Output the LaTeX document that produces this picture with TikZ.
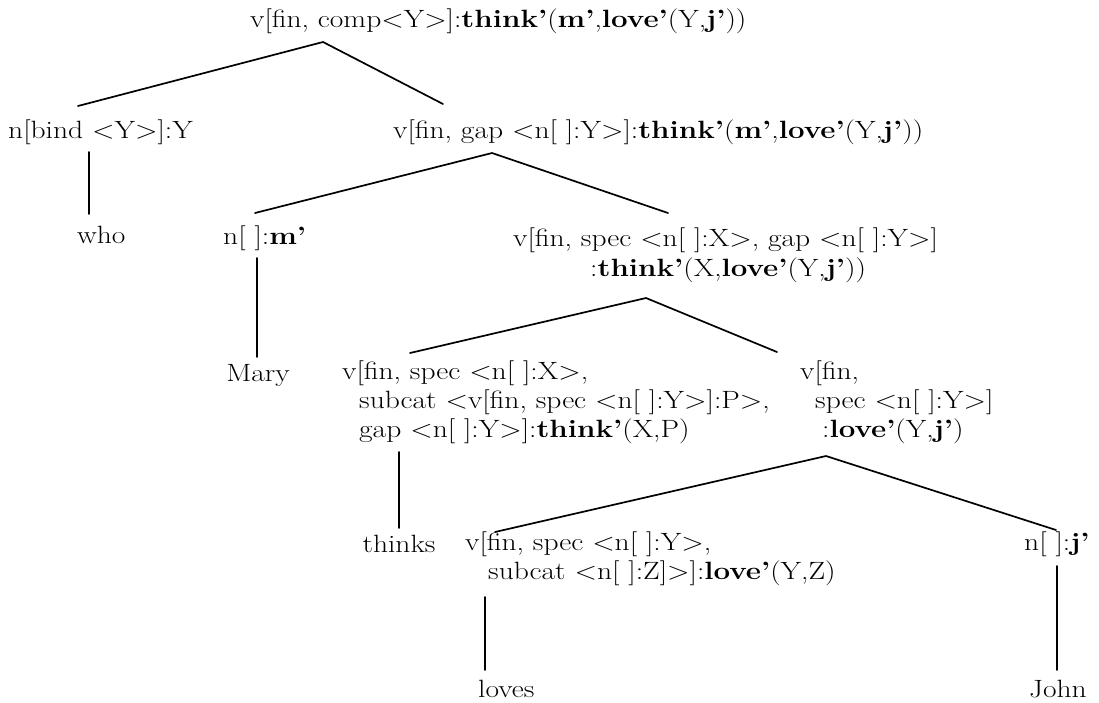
\documentclass[tikz,border=0pt]{standalone}
\usepackage{fontspec}
\usepackage{graphicx}
\newcommand{\wid}[1]{\scalebox{1.18}[1]{#1}}
\begin{document}
\begin{tikzpicture}[x=1pt,y=-1pt,
  lbl/.style={anchor=base west, inner sep=0pt, font=\fontsize{25}{30}\selectfont},
  leaf/.style={anchor=base, inner sep=0pt, font=\fontsize{25}{30}\selectfont},
  edge/.style={line width=1.7pt, line cap=round}]
\useasboundingbox[fill=white] (0,0) rectangle (1099,702);

% labels
\node[lbl] (root) at (250,27) {\wid{v[fin, comp<Y>]:\textbf{think'}(\textbf{m'},\textbf{love'}(Y,\textbf{j'}))}};
\node[lbl] (nbind) at (8,138) {\wid{n[bind <Y>]:Y}};
\node[lbl] (gap) at (393,138) {\wid{v[fin, gap <n[ ]:Y>]:\textbf{think'}(\textbf{m'},\textbf{love'}(Y,\textbf{j'}))}};
\node[lbl] (who) at (77,243) {\wid{who}};
\node[lbl] (nm) at (223,244) {\wid{n[ ]:\textbf{m'}}};
\node[lbl] (specA) at (513,246) {\wid{v[fin, spec <n[ ]:X>, gap <n[ ]:Y>]}};
\node[lbl] (specB) at (590,276) {\wid{:\textbf{think'}(X,\textbf{love'}(Y,\textbf{j'}))}};
\node[leaf] (mary) at (258,381) {\wid{Mary}};
\node[lbl] (lfA) at (342,379) {\wid{v[fin, spec <n[ ]:X>,}};
\node[lbl] (lfB) at (359,408) {\wid{subcat <v[fin, spec <n[ ]:Y>]:P>,}};
\node[lbl] (lfC) at (359,437) {\wid{gap <n[ ]:Y>]:\textbf{think'}(X,P)}};
\node[lbl] (rtA) at (800,379) {\wid{v[fin,}};
\node[lbl] (rtB) at (815,408) {\wid{spec <n[ ]:Y>]}};
\node[lbl] (rtC) at (822,437) {\wid{:\textbf{love'}(Y,\textbf{j'})}};
\node[leaf] (thinks) at (399,552) {\wid{thinks}};
\node[lbl] (lvA) at (465,550) {\wid{v[fin, spec <n[ ]:Y>,}};
\node[lbl] (lvB) at (488,579) {\wid{subcat <n[ ]:Z]>]:\textbf{love'}(Y,Z)}};
\node[lbl] (nj) at (1024,550) {\wid{n[ ]:\textbf{j'}}};
\node[lbl] (loves) at (478,697) {\wid{loves}};
\node[leaf] (john) at (1058,697) {\wid{John}};

% branch points and edge ends
\coordinate (ap0) at (323,42);
\coordinate (e-bind) at (78,106);
\coordinate (e-gap) at (443,104);
\coordinate (ap1) at (492,153);
\coordinate (e-nm) at (255,213);
\coordinate (e-spec) at (668,213);
\coordinate (ap2) at (646,298);
\coordinate (e-lf) at (410,353);
\coordinate (e-rt) at (777,352);
\coordinate (ap3) at (826,456);
\coordinate (e-lv) at (495,532);
\coordinate (e-nj) at (1056,530);
% vertical unary branches
\coordinate (v-bind-t) at (89,152);  \coordinate (v-bind-b) at (89,214);
\coordinate (v-nm-t) at (257,258);   \coordinate (v-nm-b) at (257,357);
\coordinate (v-lf-t) at (399,452);   \coordinate (v-lf-b) at (399,528);
\coordinate (v-lv-t) at (485,597);   \coordinate (v-lv-b) at (485,670);
\coordinate (v-nj-t) at (1057,566);  \coordinate (v-nj-b) at (1057,670);

\draw[edge] (e-bind) -- (ap0) -- (e-gap);
\draw[edge] (e-nm) -- (ap1) -- (e-spec);
\draw[edge] (e-lf) -- (ap2) -- (e-rt);
\draw[edge] (e-lv) -- (ap3) -- (e-nj);

\draw[edge] (v-bind-t) -- (v-bind-b);
\draw[edge] (v-nm-t) -- (v-nm-b);
\draw[edge] (v-lf-t) -- (v-lf-b);
\draw[edge] (v-lv-t) -- (v-lv-b);
\draw[edge] (v-nj-t) -- (v-nj-b);
\end{tikzpicture}
\end{document}
